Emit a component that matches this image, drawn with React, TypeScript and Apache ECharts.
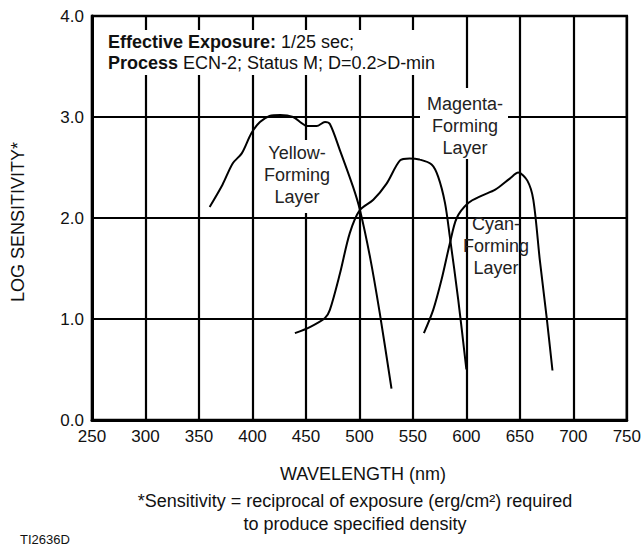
import React, { useEffect, useRef } from "react";
import * as echarts from "echarts";

const xTicks = [250, 300, 350, 400, 450, 500, 550, 600, 650, 700, 750];
const yTicks = [0, 1, 2, 3, 4];

const yellowNm = [360, 372, 381.5, 390, 399, 407, 416, 426, 438, 446, 451, 460, 467.8, 472.4, 481.8, 494, 500.5, 509.8, 519, 530];
const yellowVal = [2.11, 2.33, 2.54, 2.64, 2.84, 2.95, 3.01, 3.02, 3.0, 2.94, 2.91, 2.91, 2.95, 2.93, 2.67, 2.31, 2.08, 1.62, 1.06, 0.31];

const magentaNm = [439.7, 453.7, 467.8, 472.4, 481.8, 491, 500.5, 513, 525.4, 538, 547, 556, 567.5, 573.6, 580, 584.6, 592.4, 600];
const magentaVal = [0.86, 0.92, 1.01, 1.09, 1.45, 1.85, 2.08, 2.18, 2.34, 2.57, 2.59, 2.58, 2.53, 2.41, 2.15, 1.81, 1.19, 0.5];

const cyanNm = [560.3, 569, 576.8, 584.6, 591, 602, 614, 627, 640.6, 648.5, 657, 662.6, 668.7, 675, 680.5];
const cyanVal = [0.86, 1.09, 1.39, 1.75, 2.0, 2.15, 2.22, 2.28, 2.39, 2.45, 2.37, 2.18, 1.58, 1.02, 0.49];

const seriesNames = ["Yellow-Forming Layer", "Magenta-Forming Layer", "Cyan-Forming Layer"];

const FONT = "'Liberation Sans', Arial, Helvetica, sans-serif";

function pairs(xs: number[], ys: number[]) {
  return xs.map((x, i) => [x, ys[i]]);
}

export default function App() {
  const ref = useRef<HTMLDivElement>(null);
  useEffect(() => {
    if (!ref.current) return;
    const chart = echarts.init(ref.current, undefined, { renderer: "svg" });
    const lineStyle = { color: "#000", width: 2 };
    const label = (text: string, x: number, y: number) => ({
      type: "text",
      x,
      y,
      z: 110,
      style: {
        text,
        fill: "#222",
        font: `18px ${FONT}`,
        align: "center",
        verticalAlign: "middle",
        lineHeight: 22,
      },
    });
    const whiteRect = (x: number, y: number, w: number, h: number) => ({
      type: "rect",
      z: 100,
      shape: { x, y, width: w, height: h },
      style: { fill: "#fff" },
    });
    chart.setOption({
      animation: false,
      backgroundColor: "#fff",
      grid: {
        left: 92,
        right: 17,
        top: 16,
        bottom: 127,
        show: true,
        borderColor: "#000",
        borderWidth: 2.5,
      },
      xAxis: {
        type: "value",
        min: xTicks[0],
        max: xTicks[xTicks.length - 1],
        interval: 50,
        axisLine: { show: true, lineStyle: { color: "#000", width: 3 } },
        axisTick: { show: false },
        splitLine: { show: true, lineStyle: { color: "#000", width: 2.2 } },
        axisLabel: { color: "#111", fontSize: 17, fontFamily: FONT, margin: 8 },
      },
      yAxis: {
        type: "value",
        min: yTicks[0],
        max: yTicks[yTicks.length - 1],
        interval: 1,
        axisLine: { show: true, lineStyle: { color: "#000", width: 3 } },
        axisTick: { show: false },
        splitLine: { show: true, lineStyle: { color: "#000", width: 2.2 } },
        axisLabel: {
          color: "#111",
          fontSize: 17,
          fontFamily: FONT,
          margin: 8,
          formatter: (v: number) => v.toFixed(1),
        },
      },
      series: [
        { name: seriesNames[0], type: "line", data: pairs(yellowNm, yellowVal), smooth: 0.3, showSymbol: false, lineStyle, z: 5 },
        { name: seriesNames[1], type: "line", data: pairs(magentaNm, magentaVal), smooth: 0.3, showSymbol: false, lineStyle, z: 5 },
        { name: seriesNames[2], type: "line", data: pairs(cyanNm, cyanVal), smooth: 0.3, showSymbol: false, lineStyle, z: 5 },
      ],
      graphic: [
        whiteRect(100, 30, 345, 45),
        {
          type: "text",
          x: 108,
          y: 31.5,
          z: 110,
          style: {
            text: "{b|Effective Exposure:} 1/25 sec;\n{b|Process} ECN-2; Status M; D=0.2>D-min",
            fill: "#111",
            font: `18px ${FONT}`,
            align: "left",
            verticalAlign: "top",
            lineHeight: 21,
            rich: {
              b: { fontWeight: "bold", fontSize: 18, fontFamily: FONT, fill: "#111", lineHeight: 21 },
            },
          },
        },
        whiteRect(262, 140, 72, 73),
        label("Yellow-\nForming\nLayer", 297, 175),
        whiteRect(420, 88, 88, 71),
        label("Magenta-\nForming\nLayer", 465, 126),
        label("Cyan-\nForming\nLayer", 496, 246),
        {
          type: "text",
          x: 18,
          y: 222,
          rotation: Math.PI / 2,
          style: {
            text: "LOG SENSITIVITY*",
            fill: "#111",
            font: `18px ${FONT}`,
            align: "center",
            verticalAlign: "middle",
          },
        },
        {
          type: "text",
          x: 363,
          y: 474,
          style: {
            text: "WAVELENGTH (nm)",
            fill: "#111",
            font: `18px ${FONT}`,
            align: "center",
            verticalAlign: "middle",
          },
        },
        {
          type: "text",
          x: 355,
          y: 512,
          style: {
            text: "*Sensitivity = reciprocal of exposure (erg/cm²) required\nto produce specified density",
            fill: "#111",
            font: `18px ${FONT}`,
            align: "center",
            verticalAlign: "middle",
            lineHeight: 23,
          },
        },
        {
          type: "text",
          x: 20,
          y: 539,
          style: {
            text: "TI2636D",
            fill: "#111",
            font: `13px ${FONT}`,
            align: "left",
            verticalAlign: "middle",
          },
        },
      ],
    });
    return () => chart.dispose();
  }, []);
  return <div ref={ref} style={{ width: 644, height: 547, position: "absolute", left: 0, top: 0 }} />;
}
